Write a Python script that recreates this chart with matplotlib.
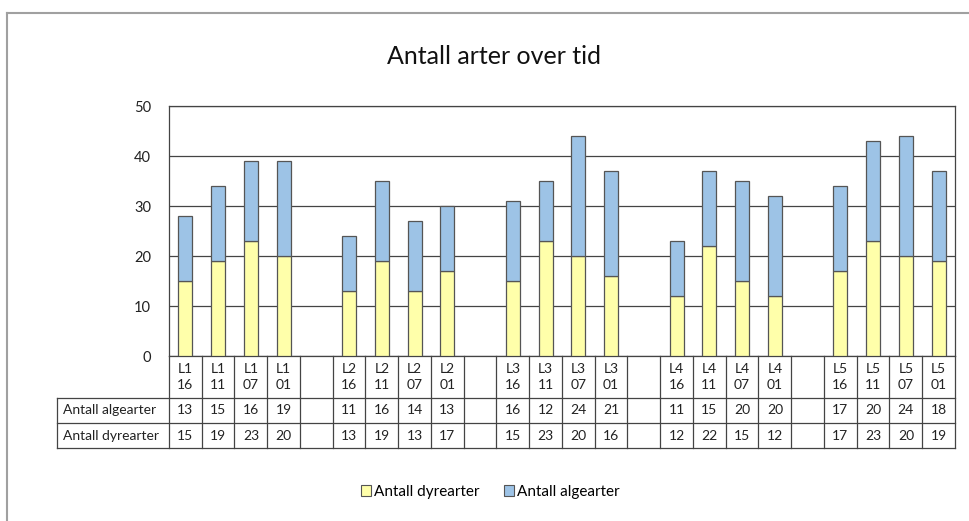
import matplotlib.pyplot as plt
from matplotlib.patches import Patch
import numpy as np

plt.rcParams['font.family'] = ['Lato', 'DejaVu Sans']

# categories (None = empty gap column)
labels = ['L1\n16', 'L1\n11', 'L1\n07', 'L1\n01', None,
          'L2\n16', 'L2\n11', 'L2\n07', 'L2\n01', None,
          'L3\n16', 'L3\n11', 'L3\n07', 'L3\n01', None,
          'L4\n16', 'L4\n11', 'L4\n07', 'L4\n01', None,
          'L5\n16', 'L5\n11', 'L5\n07', 'L5\n01']
alge = [13, 15, 16, 19, None, 11, 16, 14, 13, None, 16, 12, 24, 21, None,
        11, 15, 20, 20, None, 17, 20, 24, 18]
dyr = [15, 19, 23, 20, None, 13, 19, 13, 17, None, 15, 23, 20, 16, None,
       12, 22, 15, 12, None, 17, 23, 20, 19]

c_dyr = '#FFFFAA'
c_alg = '#9DC3E6'
edge = '#555555'
txt = '#222222'
fs = 10

fig = plt.figure(figsize=(9.7, 5.21), dpi=100)
ax = fig.add_axes([169/970, 1-356/521, 786/970, 250/521])

n = len(labels)
idx = [i for i in range(n) if labels[i] is not None]
d = np.array([dyr[i] for i in idx])
a = np.array([alge[i] for i in idx])
ax.bar(idx, d, width=0.42, color=c_dyr, edgecolor=edge, linewidth=0.9, zorder=3)
ax.bar(idx, a, bottom=d, width=0.42, color=c_alg, edgecolor=edge, linewidth=0.9, zorder=3)

ax.set_xlim(-0.5, n-0.5)
ax.set_ylim(0, 50)
ax.set_yticks(range(0, 51, 10))
ax.yaxis.grid(True, color='#444444', linewidth=0.9)
ax.set_axisbelow(True)
ax.tick_params(axis='y', length=0, pad=13, labelsize=10.5, labelcolor=txt)
ax.set_xticks([])
for s in ax.spines.values():
    s.set_color('#444444')
    s.set_linewidth(0.9)

# data table under the plot
tr = ax.get_xaxis_transform()
rows = [0, -0.168, -0.268, -0.368]
xl = -3.92
lc = '#444444'
for xb in np.arange(-0.5, n, 1.0):
    ax.plot([xb, xb], [rows[0], rows[3]], color=lc, lw=0.9, transform=tr, clip_on=False)
ax.plot([xl, n-0.5], [rows[1]]*2, color=lc, lw=0.9, transform=tr, clip_on=False)
for r in rows[2:]:
    ax.plot([xl, n-0.5], [r, r], color=lc, lw=0.9, transform=tr, clip_on=False)
ax.plot([xl, xl], [rows[1], rows[3]], color=lc, lw=0.9, transform=tr, clip_on=False)

for i in range(n):
    if labels[i] is None:
        continue
    ax.text(i, (rows[0]+rows[1])/2, labels[i], transform=tr, ha='center', va='center',
            fontsize=fs, color=txt, linespacing=1.45)
    ax.text(i, (rows[1]+rows[2])/2, str(alge[i]), transform=tr, ha='center', va='center',
            fontsize=fs, color=txt)
    ax.text(i, (rows[2]+rows[3])/2, str(dyr[i]), transform=tr, ha='center', va='center',
            fontsize=fs, color=txt)
ax.text(xl+0.18, (rows[1]+rows[2])/2, 'Antall algearter', transform=tr, ha='left',
        va='center', fontsize=fs, color=txt)
ax.text(xl+0.18, (rows[2]+rows[3])/2, 'Antall dyrearter', transform=tr, ha='left',
        va='center', fontsize=fs, color=txt)

fig.text(494/970, 1-57/521, 'Antall arter over tid', ha='center', va='center',
         fontsize=18, color='#111111')

handles = [Patch(facecolor=c_dyr, edgecolor=edge, lw=0.8, label='Antall dyrearter'),
           Patch(facecolor=c_alg, edgecolor=edge, lw=0.8, label='Antall algearter')]
fig.legend(handles=handles, loc='center', bbox_to_anchor=(490/970, 1-492/521), ncol=2,
           frameon=False, fontsize=11, handlelength=0.7, handleheight=0.7,
           handletextpad=0.15, columnspacing=1.6)

# outer chart frame (top and left edges visible)
fig.add_artist(plt.Line2D([7/970, 1], [1-13/521]*2, color='#A0A0A0', lw=1.5))
fig.add_artist(plt.Line2D([7/970]*2, [0, 1-13/521], color='#A0A0A0', lw=1.5))

fig.savefig('out.png', dpi=100)
